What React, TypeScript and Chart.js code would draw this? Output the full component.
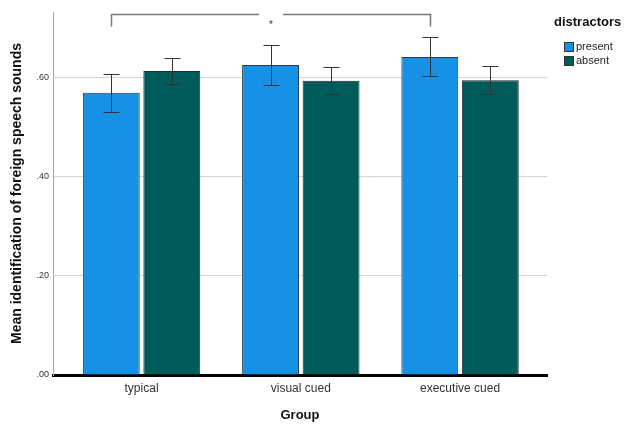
import React, { useEffect, useRef } from "react";
import { Chart, registerables } from "chart.js";

Chart.register(...registerables);

const categories = ["typical", "visual cued", "executive cued"];
const seriesNames = ["present", "absent"];
const presentMeans = [0.570, 0.626, 0.642];
const presentLower = [0.531, 0.585, 0.603];
const presentUpper = [0.608, 0.666, 0.683];
const absentMeans = [0.614, 0.594, 0.595];
const absentLower = [0.587, 0.567, 0.568];
const absentUpper = [0.640, 0.622, 0.623];
const yTicks = [0, 0.2, 0.4, 0.6];
const bracketFrom = 0; // typical, present
const bracketTo = 2; // executive cued, present
const bracketTop = 0.728;
const bracketDrop = 0.705;
const bracketLabel = "*";

const colors = ["#1591E6", "#005B5B"];
const FONT = "'Liberation Sans', Arial, sans-serif";

const errorBarsPlugin = {
  id: "errorBars",
  afterDatasetsDraw(chart: any) {
    const ctx = chart.ctx;
    const y = chart.scales.y;
    const lows = [presentLower, absentLower];
    const highs = [presentUpper, absentUpper];
    ctx.save();
    ctx.strokeStyle = "#333333";
    ctx.lineWidth = 1;
    chart.data.datasets.forEach((ds: any, di: number) => {
      const meta = chart.getDatasetMeta(di);
      meta.data.forEach((bar: any, i: number) => {
        const x = Math.round(bar.x) + 0.5;
        const yl = Math.round(y.getPixelForValue(lows[di][i])) + 0.5;
        const yh = Math.round(y.getPixelForValue(highs[di][i])) + 0.5;
        ctx.beginPath();
        ctx.moveTo(x, yl);
        ctx.lineTo(x, yh);
        ctx.moveTo(x - 8, yl);
        ctx.lineTo(x + 8, yl);
        ctx.moveTo(x - 8, yh);
        ctx.lineTo(x + 8, yh);
        ctx.stroke();
      });
    });
    // significance bracket
    const m0 = chart.getDatasetMeta(0);
    const x1 = Math.round(m0.data[bracketFrom].x) + 0.5;
    const x2 = Math.round(m0.data[bracketTo].x) + 0.5;
    const yt = Math.round(y.getPixelForValue(bracketTop)) + 0.5;
    const yd = Math.round(y.getPixelForValue(bracketDrop)) + 0.5;
    const mid = (x1 + x2) / 2;
    ctx.strokeStyle = "#7a7a7a";
    ctx.lineWidth = 1.5;
    ctx.beginPath();
    ctx.moveTo(x1, yd);
    ctx.lineTo(x1, yt);
    ctx.lineTo(mid - 12, yt);
    ctx.moveTo(mid + 12, yt);
    ctx.lineTo(x2, yt);
    ctx.lineTo(x2, yd);
    ctx.stroke();
    ctx.fillStyle = "#333333";
    ctx.font = `10px ${FONT}`;
    ctx.textAlign = "center";
    ctx.textBaseline = "middle";
    ctx.fillText(bracketLabel, mid, yt + 11);
    ctx.restore();
  },
  afterDraw(chart: any) {
    const ctx = chart.ctx;
    ctx.save();
    ctx.fillStyle = "#111111";
    ctx.font = `bold 13px ${FONT}`;
    ctx.textAlign = "left";
    ctx.textBaseline = "middle";
    ctx.fillText("distractors", 554, 22);
    ctx.font = `11px ${FONT}`;
    seriesNames.forEach((name, i) => {
      const yy = 42 + i * 14;
      ctx.fillStyle = colors[i];
      ctx.fillRect(564.5, yy + 0.5, 9, 9);
      ctx.strokeStyle = "#333333";
      ctx.lineWidth = 1;
      ctx.strokeRect(564.5, yy + 0.5, 9, 9);
      ctx.fillStyle = "#222222";
      ctx.fillText(name, 576, yy + 5);
    });
    ctx.restore();
  },
};

export default function App() {
  const ref = useRef<HTMLCanvasElement | null>(null);
  useEffect(() => {
    if (!ref.current) return;
    const chart = new Chart(ref.current, {
      type: "bar",
      data: {
        datasets: [
          {
            label: seriesNames[0],
            data: presentMeans.map((v, i) => ({ x: i, y: v })),
            backgroundColor: colors[0],
            borderColor: "#2b3a44",
            borderWidth: 1,
          },
          {
            label: seriesNames[1],
            data: absentMeans.map((v, i) => ({ x: i, y: v })),
            backgroundColor: colors[1],
            borderColor: "#1f2a2a",
            borderWidth: 1,
          },
        ],
      },
      options: {
        responsive: false,
        animation: false,
        categoryPercentage: 0.76,
        barPercentage: 0.94,
        layout: { padding: { top: 12, right: 77, left: 0, bottom: 0 } },
        plugins: { legend: { display: false }, tooltip: { enabled: false } },
        scales: {
          x: {
            type: "linear",
            offset: false,
            min: -0.556,
            max: 2.546,
            afterBuildTicks: (s: any) => {
              s.ticks = categories.map((_, i) => ({ value: i }));
            },
            afterFit: (s: any) => {
              s.height = 52;
            },
            grid: { display: false, drawTicks: false, offset: false },
            border: { display: true, color: "#000000", width: 3 },
            ticks: {
              padding: 6,
              color: "#333333",
              font: { family: FONT, size: 12 },
              callback: (v: any) => categories[v] ?? "",
            },
            title: {
              display: true,
              text: "Group",
              color: "#111111",
              font: { family: FONT, size: 13, weight: "bold" },
              padding: { top: 8, bottom: 4 },
            },
          },
          y: {
            min: 0,
            max: 0.733,
            afterBuildTicks: (s: any) => {
              s.ticks = yTicks.map((v) => ({ value: v }));
            },
            afterFit: (s: any) => {
              s.width = 53;
            },
            grid: {
              color: (c: any) => (c.tick && c.tick.value === 0 ? "rgba(0,0,0,0)" : "#d4d4d4"),
              lineWidth: 1,
              drawTicks: false,
            },
            border: { display: true, color: "#a8a8a8", width: 1 },
            ticks: {
              padding: 4,
              color: "#333333",
              font: { family: FONT, size: 9 },
              callback: (v: any) => Number(v).toFixed(2).replace(/^0/, ""),
            },
            title: {
              display: true,
              text: "Mean identification of foreign speech sounds",
              color: "#111111",
              font: { family: FONT, size: 14, weight: "bold" },
              padding: { top: 9, bottom: 4 },
            },
          },
        },
      },
      plugins: [errorBarsPlugin],
    } as any);
    return () => chart.destroy();
  }, []);
  return (
    <div style={{ position: "absolute", left: 0, top: 0, width: 624, height: 427, background: "#ffffff" }}>
      <canvas ref={ref} width={624} height={427} style={{ display: "block" }} />
    </div>
  );
}
